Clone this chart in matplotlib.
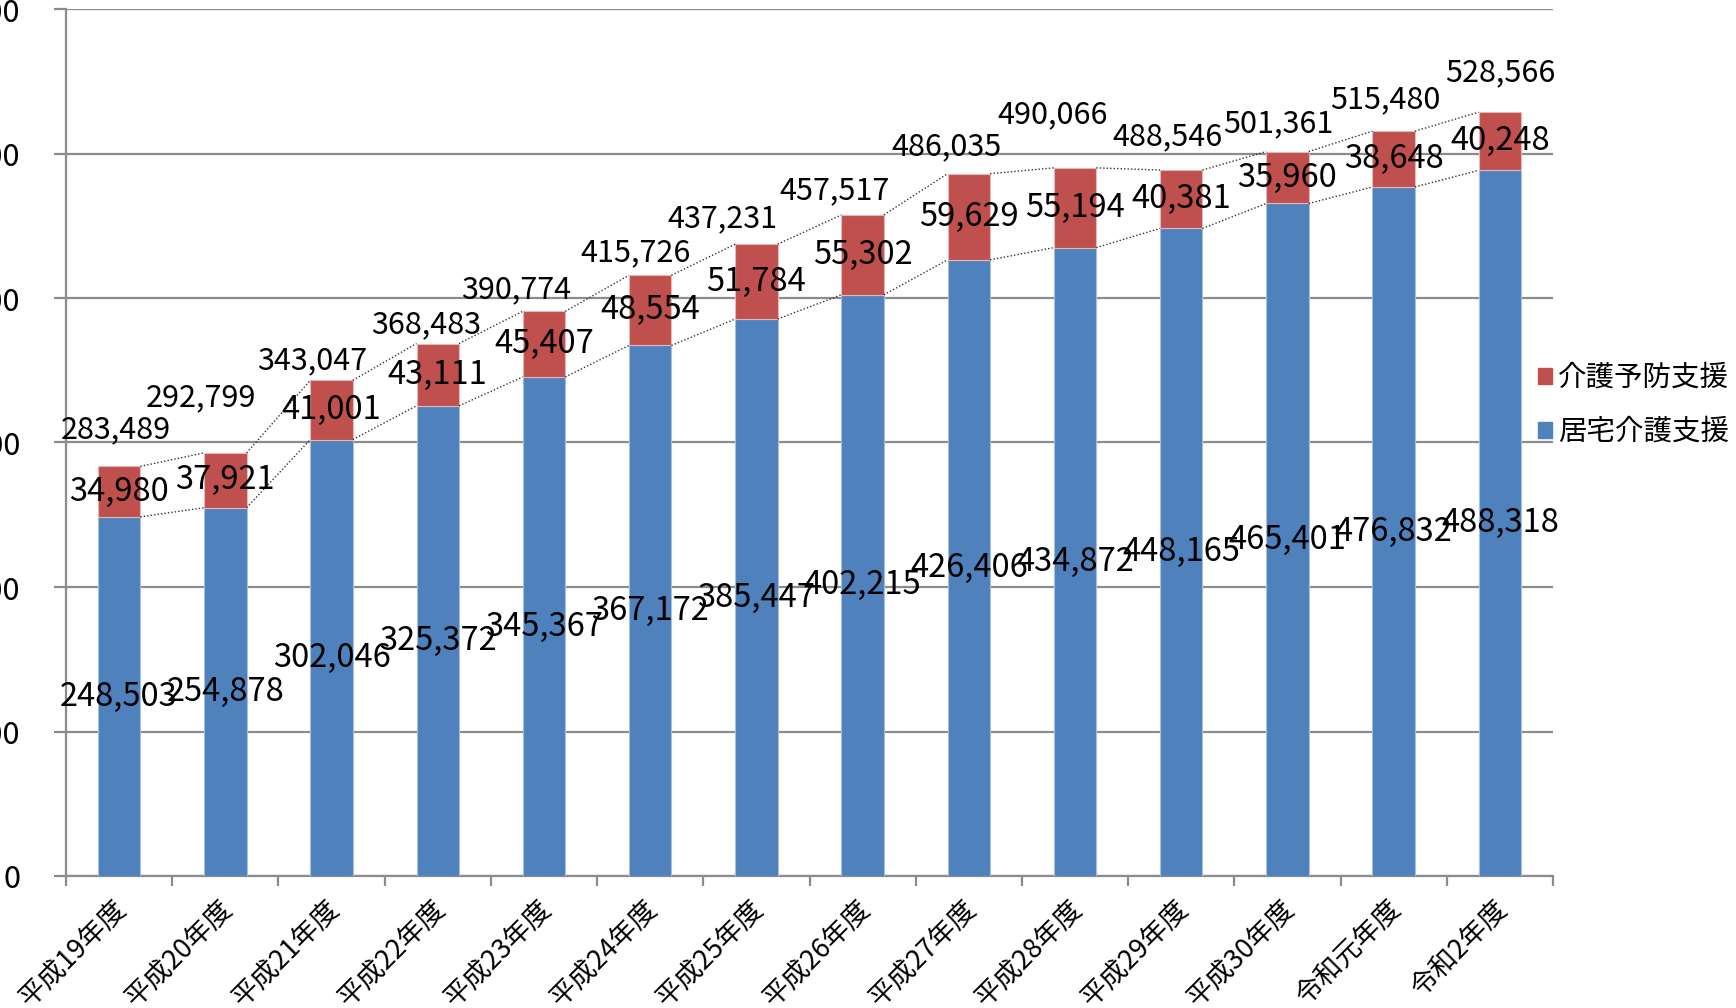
import numpy as np
import matplotlib
matplotlib.use('Agg')
import matplotlib.pyplot as plt
from matplotlib.patches import Patch
from matplotlib.transforms import ScaledTranslation

plt.rcParams['font.family'] = ['Noto Sans CJK JP', 'DejaVu Sans']

###############################################################################
# data
###############################################################################
years = ['平成19年度', '平成20年度', '平成21年度', '平成22年度', '平成23年度',
         '平成24年度', '平成25年度', '平成26年度', '平成27年度', '平成28年度',
         '平成29年度', '平成30年度', '令和元年度', '令和2年度']

kyotaku = [248503, 254878, 302046, 325372, 345367, 367172, 385447,
           402215, 426406, 434872, 448165, 465401, 476832, 488318]

yobou = [34980, 37921, 41001, 43111, 45407, 48554, 51784,
         55302, 59629, 55194, 40381, 35960, 38648, 40248]

totals = [283489, 292799, 343047, 368483, 390774, 415726, 437231,
          457517, 486035, 490066, 488546, 501361, 515480, 528566]

# hand placed total labels (pixel offsets from bar top)
tot_dx = [-3, -24, -19, -12, -28, -15, -34, -28, -22, -22, -14, -9, -8, 0]
tot_dy = [37, 55, 20, 19, 22, 23, 25, 24, 27, 53, 33, 28, 31, 39]

###############################################################################
blue = '#4F81BD'
red = '#C0504D'
grey = '#8C8C8C'

fig = plt.figure(figsize=(17.36, 10.08), dpi=100)
ax = fig.add_axes([66/1736, 1-876/1008, (1553-66)/1736, (876-9)/1008])

x = np.arange(len(years))
w = 0.4
kyotaku = np.array(kyotaku)
yobou = np.array(yobou)
top = kyotaku + yobou

ax.bar(x, kyotaku, w, color=blue, edgecolor='#A7BFDE', linewidth=0.8, zorder=3)
ax.bar(x, yobou, w, bottom=kyotaku, color=red, edgecolor='#E6B9B8', linewidth=0.8, zorder=3)

# series lines
for i in range(len(x)-1):
    for lev in (kyotaku, top):
        ax.plot([x[i]+w/2, x[i+1]-w/2], [lev[i], lev[i+1]], ls=(0, (1, 1.5)),
                color='#333333', lw=1.0, zorder=4)

# labels
for i in range(len(x)):
    ax.text(x[i], kyotaku[i]/2, f'{kyotaku[i]:,}', ha='center', va='center',
            fontsize=23.5, zorder=5)
    ax.text(x[i], kyotaku[i]+yobou[i]/2, f'{yobou[i]:,}', ha='center', va='center',
            fontsize=23.5, zorder=5)
    ax.annotate(f'{totals[i]:,}', (x[i], top[i]), xytext=(tot_dx[i], tot_dy[i]),
                textcoords='offset pixels', ha='center', va='center',
                fontsize=22, zorder=5)

ax.set_xlim(-0.5, len(x)-0.5)
ax.set_ylim(0, 600000)
ax.set_yticks(np.arange(0, 600001, 100000))
ax.set_yticklabels([f'{v:,}' for v in range(0, 600001, 100000)], fontsize=22)
ax.yaxis.grid(True, color=grey, lw=1.6, zorder=0)
ax.tick_params(axis='y', length=9, width=1.6, color=grey, pad=24)

ax.set_xticks(x)
ax.set_xticklabels(years, fontsize=19.5, rotation=45, ha='right', va='top',
                   rotation_mode='anchor')
ax.set_xticks(np.arange(-0.5, len(x)), minor=True)
ax.tick_params(axis='x', which='major', length=0, pad=14)
ax.tick_params(axis='x', which='minor', length=7, width=1.6, color=grey)
shift = ScaledTranslation(-6/100, 0, fig.dpi_scale_trans)
for lab in ax.get_xticklabels():
    lab.set_transform(lab.get_transform() + shift)

for s in ('top', 'right'):
    ax.spines[s].set_visible(False)
for s in ('left', 'bottom'):
    ax.spines[s].set_color(grey)
    ax.spines[s].set_linewidth(1.6)

handles = [Patch(color=red), Patch(color=blue)]
fig.legend(handles, ['介護予防支援', '居宅介護支援'], loc='center left',
           bbox_to_anchor=(1538/1736, 1-405/1008), frameon=False, fontsize=20.5,
           handlelength=0.5, handleheight=0.5, handletextpad=0.2,
           labelspacing=0.85, borderaxespad=0, borderpad=0)

fig.savefig('out.png', dpi=100)
